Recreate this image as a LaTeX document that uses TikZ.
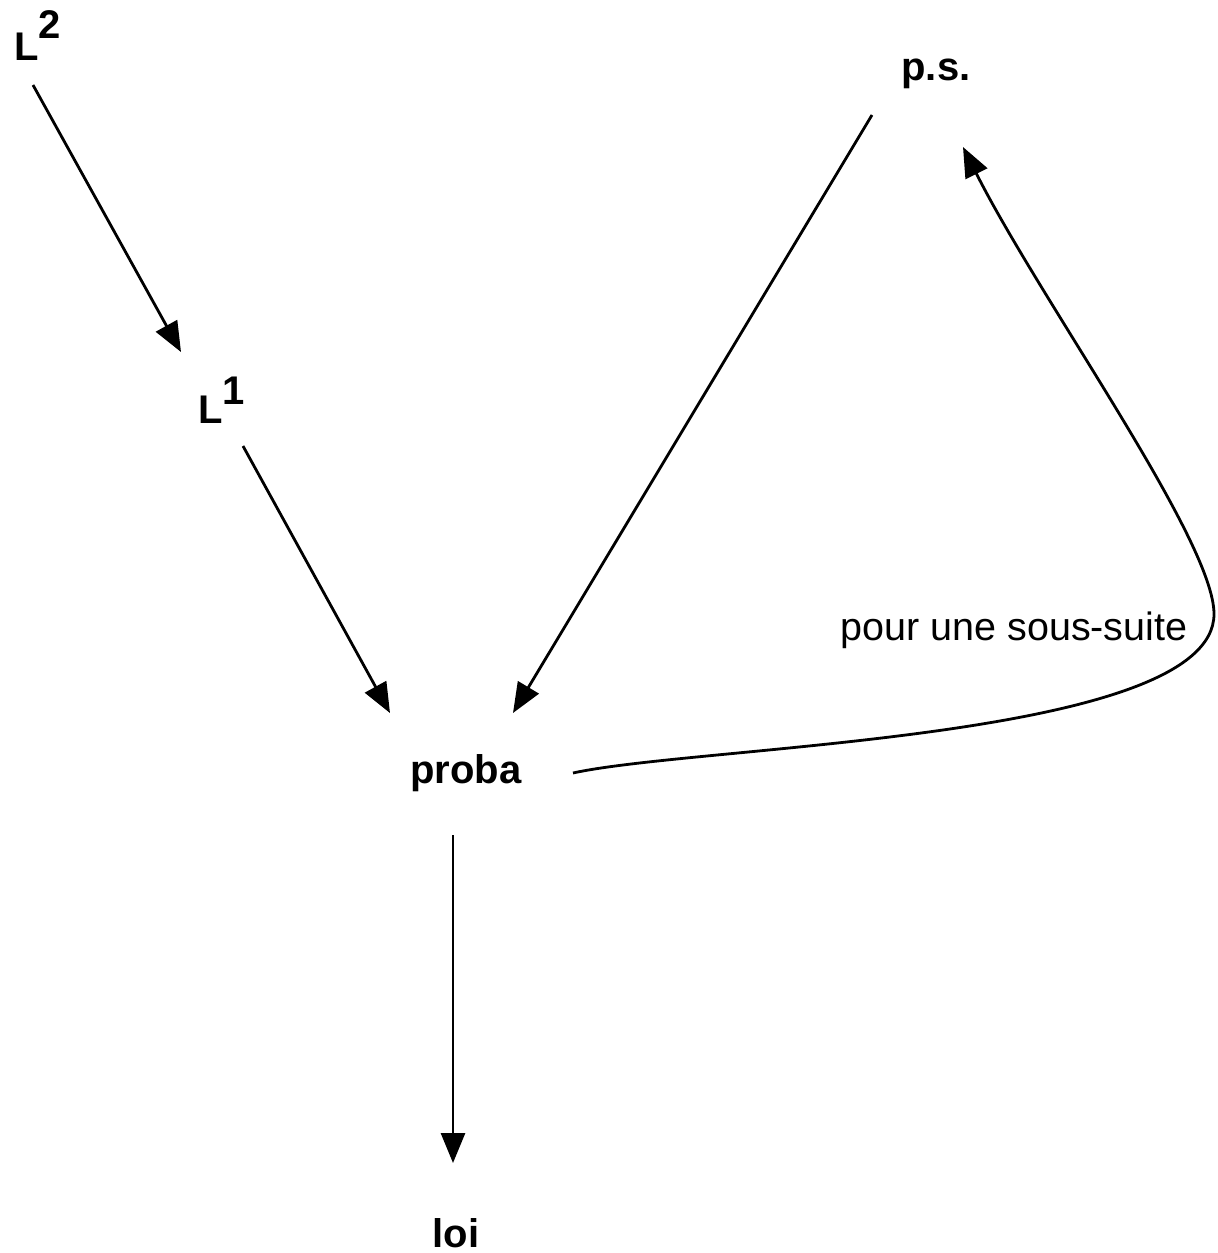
\documentclass[tikz,border=0pt]{standalone}
\usepackage{fontspec}
\setmainfont{Liberation Sans}
\usetikzlibrary{arrows.meta,calc}
\begin{document}
\begin{tikzpicture}[x=0.5pt,y=-0.5pt,
  lbl/.style={inner sep=0pt,font=\fontsize{20pt}{24pt}\selectfont\bfseries},
  note/.style={inner sep=0pt,font=\fontsize{19.75pt}{24pt}\selectfont},
  arr/.style={line width=1.4pt,-{Triangle[length=15pt,width=12pt]}}]
\useasboundingbox (0,0) rectangle (1217,1253);
\node[lbl,anchor=base west] (L2) at (14,60) {L\raisebox{11pt}{2}};
\node[lbl,anchor=base west] (L1) at (198,423) {L\raisebox{9.5pt}{1}};
\node[lbl,anchor=base] (ps) at (936,80) {p.s.};
\node[lbl,anchor=base] (proba) at (466,783) {proba};
\node[lbl,anchor=base] (loi) at (456,1247) {loi};
\node[note,anchor=base] (sub) at (1014,640) {pour une sous-suite};
\draw[arr] ($(L2.base west)+(19,25)$) -- ($(L1.base west)+(-17,-71)$);
\draw[arr] ($(L1.base west)+(45,23)$) -- ($(proba.base)+(-76,-70)$);
\draw[arr] ($(ps.base)+(-64,35)$) -- ($(proba.base)+(47,-70)$);
\draw[arr] ($(proba.base)+(-13,52)$) -- ($(loi.base)+(-3,-84)$);
\draw[arr] ($(proba.base)+(107,-10)$) .. controls (700,745) and (1214,740) .. (1214,614)
  .. controls (1214,540) and (1040,300) .. ($(ps.base)+(27,67)$);
\end{tikzpicture}
\end{document}
